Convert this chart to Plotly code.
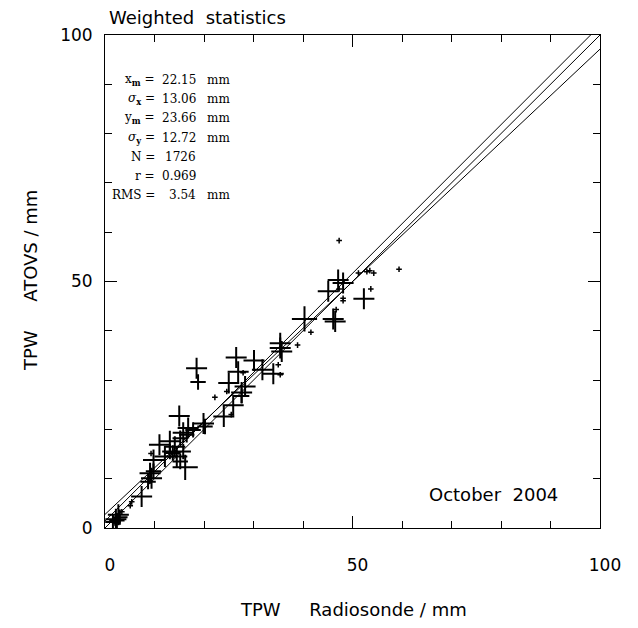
import plotly.graph_objects as go

# ---------------- data ----------------
# statistics shown in the panel
stat_labels = ["x<sub><b>m</b></sub> =", "<i>σ</i><sub><b>x</b></sub> =", "y<sub><b>m</b></sub> =",
               "<i>σ</i><sub><b>y</b></sub> =", "N =", "r =", "RMS ="]
stat_values = ["22.15", "13.06", "23.66", "12.72", "1726", "0.969", "3.54"]
stat_units = ["mm", "mm", "mm", "mm", "", "", "mm"]
x_mean, sigma_x, y_mean, sigma_y, corr = 22.15, 13.06, 23.66, 12.72, 0.969

# weighted points: large crosses
big_x = [40.3, 16.2]
big_y = [42.4, 12.3]
# medium crosses
med_x = [46.1, 46.5, 45.1, 47.1, 48.1, 52.3, 35.4, 35.4, 35.7, 34.0, 31.8, 30.1, 26.5, 26.9,
         25.0, 28.3, 27.6, 25.9, 24.0, 18.5, 19.9, 16.8, 15.8, 15.0, 11.0, 13.1, 14.1, 12.1,
         14.5, 9.8, 9.1, 9.4, 7.4, 2.7, 2.2]
med_y = [42.4, 41.9, 48.0, 50.3, 49.7, 46.5, 37.5, 36.5, 35.8, 31.3, 32.1, 34.0, 34.6, 31.7,
         29.4, 28.7, 27.5, 24.9, 22.6, 32.4, 21.2, 20.3, 19.3, 22.7, 16.9, 17.6, 16.5, 14.5,
         14.5, 13.8, 11.1, 10.1, 6.4, 2.7, 1.8]
# small crosses
small_x = [27.6, 18.8, 20.2, 17.8, 16.5, 15.2, 13.1, 15.8, 13.7, 15.2, 9.8, 8.7, 3.0, 2.4, 1.6]
small_y = [26.8, 29.6, 20.6, 19.9, 18.9, 18.2, 15.5, 15.5, 15.2, 13.5, 11.5, 9.4, 2.2, 1.5, 1.2]
# single points (dots)
dot_x = [47.3, 51.2, 52.9, 53.5, 54.3, 59.4, 47.3, 48.1, 48.1, 53.7, 46.7, 41.6, 38.9, 35.0,
         35.4, 27.9, 24.6, 22.2, 25.5, 9.3, 5.4, 5.1, 3.4, 2.0]
dot_y = [58.3, 51.7, 52.0, 52.2, 51.7, 52.5, 48.5, 46.6, 46.1, 48.5, 44.3, 39.7, 37.1, 33.1,
         31.1, 31.5, 27.7, 26.5, 23.0, 15.1, 5.3, 4.5, 3.3, 1.0]

axis_ticks = [0, 50, 100]

# ---------------- derived lines ----------------
line_x = [0, 100]
b_yx = corr * sigma_y / sigma_x
a_yx = y_mean - b_yx * x_mean
b_xy = corr * sigma_x / sigma_y
a_xy = x_mean - b_xy * y_mean
reg1 = [a_yx + b_yx * v for v in line_x]
reg2 = [(v - a_xy) / b_xy for v in line_x]
one2one = list(line_x)

fig = go.Figure()
for ys in (one2one, reg1, reg2):
    fig.add_trace(go.Scatter(x=line_x, y=ys, mode="lines",
                             line=dict(color="black", width=1), hoverinfo="skip"))

def cross_trace(xs, ys, size, lw):
    return go.Scatter(x=xs, y=ys, mode="markers",
                      marker=dict(symbol="cross-thin", size=size, color="black",
                                  line=dict(color="black", width=lw)))

fig.add_trace(cross_trace(dot_x, dot_y, 4, 1.5))
fig.add_trace(cross_trace(small_x, small_y, 11, 2))
fig.add_trace(cross_trace(med_x, med_y, 15, 2))
fig.add_trace(cross_trace(big_x, big_y, 18, 2))

W, H = 638, 628
L, R, T, B = 105, 600, 35, 528
pw, ph = R - L, B - T
sans = "DejaVu Sans"

def px(x):
    return (x - L) / pw

def py(y):
    return (B - y) / ph

ann = []
ann.append(dict(text="Weighted\u00a0\u00a0statistics", x=px(107), y=py(17), xref="paper", yref="paper",
                xanchor="left", yanchor="middle", showarrow=False,
                font=dict(family=sans, size=18, color="black")))
ann.append(dict(text="TPW\u00a0\u00a0\u00a0\u00a0\u00a0Radiosonde / mm", x=px(353), y=py(609),
                xref="paper", yref="paper", xanchor="center", yanchor="middle",
                showarrow=False, font=dict(family=sans, size=18, color="black")))
ann.append(dict(text="TPW\u00a0\u00a0\u00a0\u00a0\u00a0ATOVS / mm", x=px(30), y=py(281),
                xref="paper", yref="paper", xanchor="center", yanchor="middle",
                textangle=-90, showarrow=False, font=dict(family=sans, size=18, color="black")))
ann.append(dict(text="October\u00a0\u00a02004", x=px(560), y=py(494), xref="paper", yref="paper",
                xanchor="right", yanchor="middle", showarrow=False,
                font=dict(family=sans, size=18, color="black")))

serif = dict(family="DejaVu Serif", size=12, color="black")
for i, (lab, val, unit) in enumerate(zip(stat_labels, stat_values, stat_units)):
    yy = py(80 + 19.2 * i)
    ann.append(dict(text=lab, x=px(157), y=yy, xref="paper", yref="paper", xanchor="right",
                    yanchor="middle", showarrow=False, font=serif))
    ann.append(dict(text=val, x=px(198), y=yy, xref="paper", yref="paper", xanchor="right",
                    yanchor="middle", showarrow=False, font=serif))
    if unit:
        ann.append(dict(text=unit, x=px(205), y=yy, xref="paper", yref="paper", xanchor="left",
                        yanchor="middle", showarrow=False, font=serif))

axis_common = dict(range=[0, 100], tickmode="array", tickvals=axis_ticks,
                   ticktext=[str(v) for v in axis_ticks],
                   ticks="inside", ticklen=12, tickwidth=1, tickcolor="black",
                   minor=dict(dtick=10, tick0=0, ticks="inside", ticklen=7, tickwidth=1,
                              tickcolor="black", showgrid=False),
                   showline=True, linecolor="black", linewidth=1, mirror="ticks",
                   showgrid=False, zeroline=False,
                   tickfont=dict(family=sans, size=17, color="black"), fixedrange=True)

fig.update_layout(
    width=W, height=H, margin=dict(l=L, r=W - R, t=T, b=H - B),
    paper_bgcolor="white", plot_bgcolor="white", showlegend=False,
    xaxis=dict(axis_common, ticklabelshift=5, ticklabelstandoff=22),
    yaxis=dict(axis_common, ticklabelstandoff=8),
    annotations=ann,
)

fig.write_html("out.html")
